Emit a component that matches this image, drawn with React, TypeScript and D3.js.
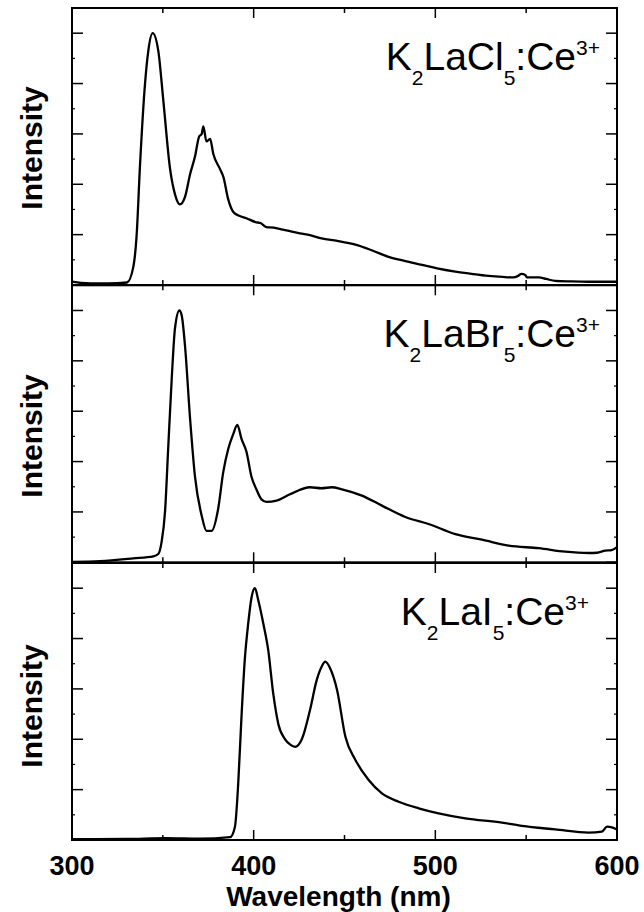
import React from "react";
import * as d3 from "d3";

// ---- Data ----
const clWavelength = [300, 305, 310, 320, 330.3, 333.7, 335.6, 337.4, 340.2, 342, 344.4, 347.5, 350.3, 354, 356.7, 359.4, 362.2, 365, 367.7, 370, 371.4, 372.3, 374, 376, 377.8, 381.5, 383.3, 386, 388.8, 392, 396, 401, 404, 407, 411, 416, 420, 425.5, 431, 437.4, 446, 456, 465, 474.3, 483, 492.7, 501, 511, 520, 529.4, 537, 543, 545.5, 547.4, 549.5, 550.5, 557, 561, 566, 575, 584.4, 592, 600];
const clIntensity = [0.013, 0.008, 0.006, 0.006, 0.01, 0.07, 0.2, 0.47, 0.8, 0.93, 1.0, 0.93, 0.73, 0.46, 0.36, 0.32, 0.35, 0.44, 0.51, 0.59, 0.6, 0.63, 0.57, 0.58, 0.52, 0.46, 0.43, 0.34, 0.29, 0.275, 0.265, 0.25, 0.245, 0.23, 0.228, 0.22, 0.214, 0.205, 0.198, 0.185, 0.175, 0.16, 0.138, 0.112, 0.096, 0.08, 0.066, 0.053, 0.044, 0.036, 0.032, 0.03, 0.036, 0.044, 0.04, 0.03, 0.03, 0.024, 0.016, 0.014, 0.013, 0.013, 0.013];

const brWavelength = [300, 315.4, 333.7, 344.8, 347.5, 349.3, 351.2, 353, 354.9, 356.7, 359.1, 360.4, 362.2, 365, 367.7, 371.4, 374, 376.8, 380.4, 383.3, 386, 388.8, 391, 393.3, 396, 398.8, 401.5, 404.3, 407.1, 412.6, 420, 431, 437.4, 443, 448.6, 459.6, 470.6, 483.5, 496.3, 511, 525.7, 540.4, 556.9, 571.5, 584.4, 589, 593.5, 597, 600];
const brIntensity = [0.002, 0.005, 0.016, 0.024, 0.033, 0.08, 0.2, 0.46, 0.73, 0.93, 1.0, 0.98, 0.86, 0.57, 0.34, 0.185, 0.125, 0.125, 0.21, 0.36, 0.45, 0.51, 0.546, 0.49, 0.44, 0.34, 0.29, 0.25, 0.24, 0.245, 0.27, 0.298, 0.294, 0.298, 0.29, 0.265, 0.225, 0.18, 0.152, 0.112, 0.09, 0.066, 0.056, 0.042, 0.037, 0.038, 0.046, 0.048, 0.06];

const iWavelength = [300, 330, 352, 370.5, 387, 389.7, 391.5, 393.3, 395.1, 397, 398.9, 400.7, 402.5, 405.3, 408, 410.8, 413.6, 417.3, 420, 422.8, 426.5, 431, 434.7, 437.4, 439.4, 442.2, 445.9, 450.5, 456, 463.3, 470.6, 479.8, 490.8, 501.8, 516.5, 536.7, 547.7, 566, 584.4, 591.7, 594.5, 597.2, 600];
const iIntensity = [0.003, 0.004, 0.007, 0.005, 0.011, 0.053, 0.225, 0.49, 0.715, 0.86, 0.966, 1.0, 0.953, 0.86, 0.755, 0.58, 0.46, 0.4, 0.38, 0.37, 0.4, 0.516, 0.635, 0.688, 0.708, 0.68, 0.596, 0.41, 0.318, 0.238, 0.185, 0.152, 0.126, 0.106, 0.086, 0.069, 0.056, 0.042, 0.029, 0.033, 0.053, 0.05, 0.042];

const xTickValues = [300, 400, 500, 600];
const xMinorTickValues = [350, 450, 550];
const yTickValues = [0, 0.2, 0.4, 0.6, 0.8, 1.0];
const yMinorTickValues = [0.1, 0.3, 0.5, 0.7, 0.9, 1.1];
const xLabel = "Wavelength (nm)";
const yLabel = "Intensity";

const panels = [
  { wl: clWavelength, val: clIntensity, halide: "LaCl", right: 600, labelY: 148 },
  { wl: brWavelength, val: brIntensity, halide: "LaBr", right: 600, labelY: 436 },
  { wl: iWavelength, val: iIntensity, halide: "LaI", right: 589, labelY: 706 },
];

const W = 644;
const H = 912;
const left = 72;
const right = 617;
const panelTops = [8, 285.3, 563];
const panelH = 277;
const FONT = "'Liberation Sans', Arial, Helvetica, sans-serif";

export default function App() {
  const x = d3.scaleLinear().domain([300, 600]).range([left, right]);
  return (
    <svg width={W} height={H} style={{ position: "absolute", left: 0, top: 0 }} fontFamily={FONT}>
      <rect x={0} y={0} width={W} height={H} fill="#fff" />
      {panels.map((p, i) => {
        const top = panelTops[i];
        const bottom = top + panelH;
        const y = d3.scaleLinear().domain([0, 1.1]).range([bottom, top]);
        const line = d3
          .line<number>()
          .x((_, k) => x(p.wl[k]))
          .y((v) => y(v))
          .curve(d3.curveMonotoneX);
        const path = line(p.val) || "";
        const txtBase = top + 62;
        return (
          <g key={i}>
            <path d={path} fill="none" stroke="#000" strokeWidth={2.3} strokeLinejoin="round" />
            <rect x={left} y={top} width={right - left} height={panelH} fill="none" stroke="#000" strokeWidth={2} />
            {/* x ticks top & bottom */}
            {xTickValues.map((t) => (
              <g key={"xt" + t}>
                <line x1={x(t)} x2={x(t)} y1={bottom} y2={bottom - 10} stroke="#000" strokeWidth={1.5} />
                <line x1={x(t)} x2={x(t)} y1={top} y2={top + 10} stroke="#000" strokeWidth={1.5} />
              </g>
            ))}
            {xMinorTickValues.map((t) => (
              <g key={"xm" + t}>
                <line x1={x(t)} x2={x(t)} y1={bottom} y2={bottom - 5} stroke="#000" strokeWidth={1.5} />
                <line x1={x(t)} x2={x(t)} y1={top} y2={top + 5} stroke="#000" strokeWidth={1.5} />
              </g>
            ))}
            {yTickValues.map((t) => (
              <g key={"yt" + t}>
                <line x1={left} x2={left + 11} y1={y(t)} y2={y(t)} stroke="#000" strokeWidth={1.5} />
                <line x1={right} x2={right - 11} y1={y(t)} y2={y(t)} stroke="#000" strokeWidth={1.5} />
              </g>
            ))}
            {yMinorTickValues.map((t) => (
              <g key={"ym" + t}>
                <line x1={left} x2={left + 3} y1={y(t)} y2={y(t)} stroke="#000" strokeWidth={1.2} />
                <line x1={right} x2={right - 3} y1={y(t)} y2={y(t)} stroke="#000" strokeWidth={1.2} />
              </g>
            ))}
            <text
              transform={`translate(42,${p.labelY}) rotate(-90)`}
              textAnchor="middle"
              fontWeight="bold"
              fontSize={30}
            >
              {yLabel}
            </text>
            <text x={p.right} y={txtBase} textAnchor="end" fontSize={39}>
              <tspan>K</tspan>
              <tspan fontSize={21} dy={15}>2</tspan>
              <tspan dy={-15}>{p.halide}</tspan>
              <tspan fontSize={21} dy={15}>5</tspan>
              <tspan dy={-15}>:Ce</tspan>
              <tspan fontSize={21} dy={-15}>3+</tspan>
            </text>
          </g>
        );
      })}
      {xTickValues.map((t) => (
        <text key={"xl" + t} x={x(t)} y={875} textAnchor="middle" fontWeight="bold" fontSize={27}>
          {t}
        </text>
      ))}
      <text x={(left + right) / 2 - 6} y={906} textAnchor="middle" fontWeight="bold" fontSize={28}>
        {xLabel}
      </text>
    </svg>
  );
}
